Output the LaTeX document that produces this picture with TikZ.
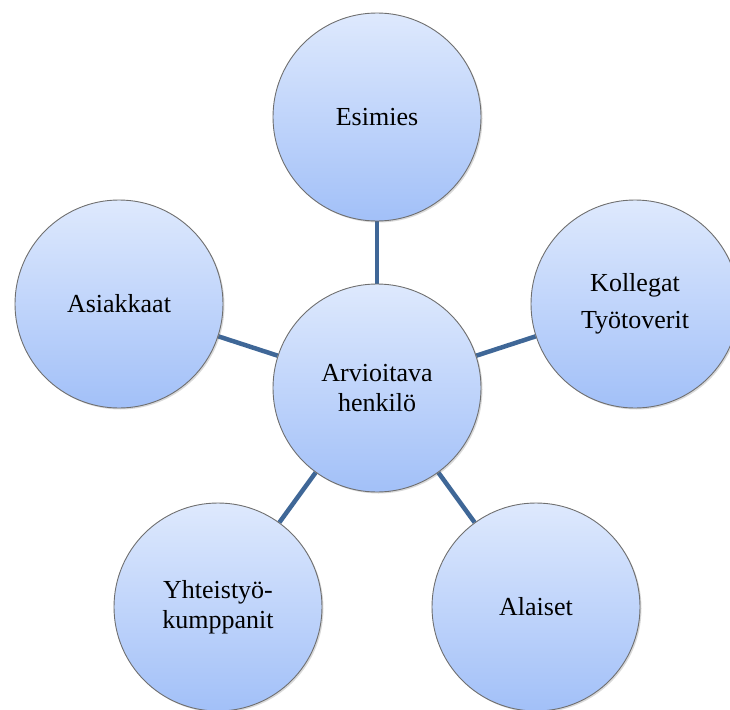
\documentclass[tikz,border=0pt]{standalone}
\usepackage{fontspec}
\setmainfont{Liberation Serif}
\usetikzlibrary{backgrounds,shadows}
\definecolor{topblue}{HTML}{DEE9FD}
\definecolor{botblue}{HTML}{A2C0F8}
\definecolor{linkblue}{HTML}{3F6797}
\definecolor{rimgray}{HTML}{6F6F6F}
\tikzset{
  bubble/.style={circle, minimum size=208pt, inner sep=0pt, align=center,
    draw=rimgray, line width=0.9pt, top color=topblue, bottom color=botblue,
    drop shadow={shadow xshift=1.5pt, shadow yshift=-1.5pt, opacity=0.25, fill=black!60},
    font=\fontsize{26}{30}\selectfont},
  link/.style={draw=linkblue, line width=4.5pt}
}
\begin{document}
\begin{tikzpicture}[x=1pt,y=-1pt]
\useasboundingbox (0,0) rectangle (730,709);
\node[bubble] (c) at (377,388) {Arvioitava\\henkilö};
\node[bubble] (e) at (377,117) {Esimies};
\node[bubble] (k) at (635,304) {Kollegat\\[7pt]Työtoverit};
\node[bubble] (a) at (536,607) {Alaiset};
\node[bubble] (y) at (218,607) {Yhteistyö-\\kumppanit};
\node[bubble] (s) at (119,304) {Asiakkaat};
\begin{scope}[on background layer]
\draw[link] (c) -- (e);
\draw[link] (c) -- (k);
\draw[link] (c) -- (a);
\draw[link] (c) -- (y);
\draw[link] (c) -- (s);
\end{scope}
\end{tikzpicture}
\end{document}
